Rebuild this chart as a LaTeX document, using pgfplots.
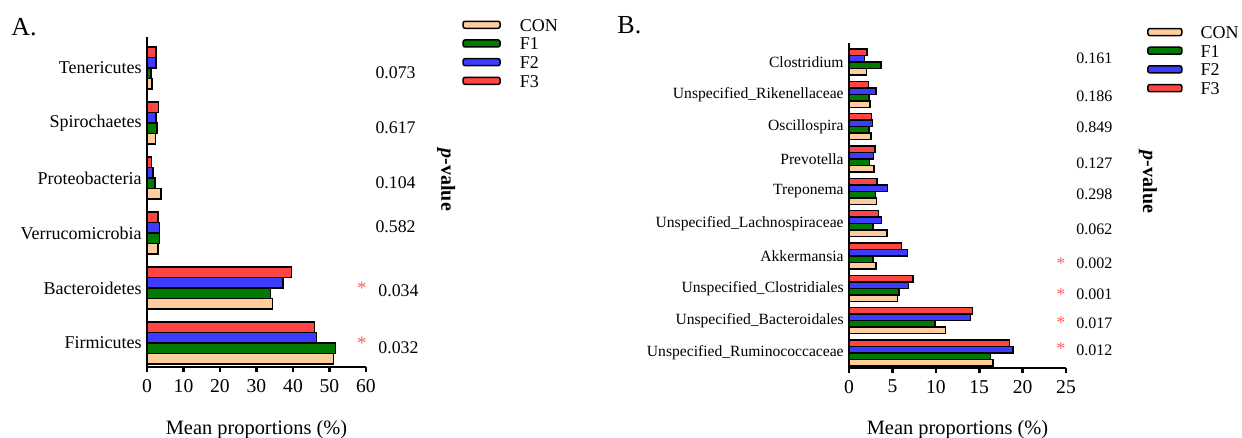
\documentclass[border=0pt]{standalone}
\usepackage{fontspec}
\setmainfont{Liberation Serif}
\usepackage{pgfplots}
\pgfplotsset{compat=1.18}
\usepackage{pgfplotstable}
\definecolor{conc}{RGB}{253,205,158}
\definecolor{f1c}{RGB}{0,122,0}
\definecolor{f2c}{RGB}{60,60,255}
\definecolor{f3c}{RGB}{255,68,68}
\definecolor{starc}{RGB}{255,95,95}

\pgfplotstableread{
idx con f1 f2 f3
0 51.1 51.6 46.5 45.9
1 34.4 33.9 37.3 39.6
2 3.0 3.4 3.4 3.0
3 3.9 2.2 1.6 1.3
4 2.3 2.7 2.5 3.2
5 1.4 1.1 2.5 2.4
}\dataA

\pgfplotstableread{
idx con f1 f2 f3
0 16.6 16.3 18.9 18.5
1 11.1 9.9 14.0 14.2
2 5.6 5.75 6.85 7.35
3 3.1 2.75 6.75 6.05
4 4.4 2.75 3.75 3.4
5 3.15 3.05 4.45 3.25
6 2.9 2.35 2.8 3.0
7 2.55 2.3 2.7 2.6
8 2.4 2.3 3.1 2.25
9 2.0 3.7 1.8 2.05
}\dataB

\pgfplotsset{
  mybar/.style={
    scale only axis,
    axis x line*=bottom, axis y line*=left,
    axis line style={line width=1.4pt, -},
    tick align=outside, major tick length=2.5pt,
    x tick style={line width=1.3pt, black},
    y tick style={draw=none},
    xmin=0,
    /pgf/number format/assume math mode=true,
    xticklabel style={font=\fontsize{9.8}{11}\selectfont},
    yticklabel style={inner sep=0pt},
    clip=false,
    legend cell align=left,
    xlabel={Mean proportions (\%)},
    xlabel style={anchor=center, font=\fontsize{10.2}{12}\selectfont},
  },
}

\begin{document}
\begin{tikzpicture}
\path[use as bounding box] (0,0) rectangle (621pt,219pt);

% ---------------- Panel A ----------------
\begin{axis}[mybar,
  at={(73.5pt,35.5pt)}, anchor=south west,
  width=109.5pt, height=165pt,
  xmax=60, xtick={0,10,...,60},
  ymin=-0.436, ymax=5.564,
  ytick={0,...,5},
  yticklabels={Firmicutes,Bacteroidetes,Verrucomicrobia,Proteobacteria,Spirochaetes,Tenericutes},
  yticklabel style={font=\fontsize{9}{11}\selectfont},
  xbar=0pt, bar width=5.25pt,
  legend image code/.code={\draw[#1, line width=0.75pt, rounded corners=1pt] (0pt,-1.75pt) rectangle (18.5pt,1.75pt);},
  xlabel style={at={(axis description cs:0.5,-0.19)}},
  legend style={at={(1.438,1.058)}, anchor=north west, draw=none, fill=none,
    inner sep=0pt, row sep=2.85pt, column sep=9.5pt,
    nodes={inner sep=0pt, text height=6.5pt, text depth=0pt, font=\fontsize{9}{11}\selectfont}},
]
\addplot[fill=conc, draw=black, line width=0.75pt] table[x=con, y=idx] {\dataA};
\addplot[fill=f1c, draw=black, line width=0.75pt] table[x=f1, y=idx] {\dataA};
\addplot[fill=f2c, draw=black, line width=0.75pt] table[x=f2, y=idx] {\dataA};
\addplot[fill=f3c, draw=black, line width=0.75pt] table[x=f3, y=idx] {\dataA};
\legend{CON,F1,F2,F3}
\begin{scope}[every node/.style={font=\fontsize{8.9}{11}\selectfont, anchor=west, inner sep=0pt}]
\node at (axis cs:62.5,4.92) {0.073};
\node at (axis cs:62.5,3.92) {0.617};
\node at (axis cs:62.5,2.92) {0.104};
\node at (axis cs:62.5,2.12) {0.582};
\node at (axis cs:63.3,0.96) {0.034};
\node at (axis cs:63.3,-0.08) {0.032};
\end{scope}
\node[text=starc, font=\fontsize{9.5}{10}\selectfont] at (axis cs:58.9,1.0) {*};
\node[text=starc, font=\fontsize{9.5}{10}\selectfont] at (axis cs:58.9,0.0) {*};
\node[rotate=-90, font=\fontsize{10}{12}\bfseries\selectfont] at (axis description cs:1.366,0.567) {\textit{p}-value};
\node[anchor=base west, inner sep=0pt, font=\fontsize{13}{15}\selectfont] at (axis description cs:-0.621,1.006) {A.};
\end{axis}

% ---------------- Panel B ----------------
\begin{axis}[mybar,
  at={(424.5pt,35pt)}, anchor=south west,
  width=108.5pt, height=162.5pt,
  xmax=25, xtick={0,5,...,25},
  ymin=-0.464, ymax=9.59,
  ytick={0,...,9},
  yticklabels={Unspecified\_Ruminococcaceae,Unspecified\_Bacteroidales,Unspecified\_Clostridiales,Akkermansia,Unspecified\_Lachnospiraceae,Treponema,Prevotella,Oscillospira,Unspecified\_Rikenellaceae,Clostridium},
  yticklabel style={font=\fontsize{7.8}{9}\selectfont},
  xbar=0pt, bar width=3.25pt,
  legend image code/.code={\draw[#1, line width=0.75pt, rounded corners=1pt] (0pt,-1.75pt) rectangle (17pt,1.75pt);},
  xlabel style={at={(axis description cs:0.5,-0.19)}},
  legend style={at={(1.372,1.055)}, anchor=north west, draw=none, fill=none,
    inner sep=0pt, row sep=2.85pt, column sep=9pt,
    nodes={inner sep=0pt, text height=6.5pt, text depth=0pt, font=\fontsize{9}{11}\selectfont}},
]
\addplot[fill=conc, draw=black, line width=0.75pt] table[x=con, y=idx] {\dataB};
\addplot[fill=f1c, draw=black, line width=0.75pt] table[x=f1, y=idx] {\dataB};
\addplot[fill=f2c, draw=black, line width=0.75pt] table[x=f2, y=idx] {\dataB};
\addplot[fill=f3c, draw=black, line width=0.75pt] table[x=f3, y=idx] {\dataB};
\legend{CON,F1,F2,F3}
\begin{scope}[every node/.style={font=\fontsize{8}{10}\selectfont, anchor=west, inner sep=0pt}]
\node at (axis cs:26.15,9.12) {0.161};
\node at (axis cs:26.15,7.95) {0.186};
\node at (axis cs:26.15,6.99) {0.849};
\node at (axis cs:26.15,5.88) {0.127};
\node at (axis cs:26.15,4.92) {0.298};
\node at (axis cs:26.15,3.84) {0.062};
\node at (axis cs:26.15,2.78) {0.002};
\node at (axis cs:26.15,1.82) {0.001};
\node at (axis cs:26.15,0.93) {0.017};
\node at (axis cs:26.15,0.09) {0.012};
\end{scope}
\node[text=starc, font=\fontsize{9}{10}\selectfont] at (axis cs:24.4,2.78) {*};
\node[text=starc, font=\fontsize{9}{10}\selectfont] at (axis cs:24.4,1.82) {*};
\node[text=starc, font=\fontsize{9}{10}\selectfont] at (axis cs:24.4,0.93) {*};
\node[text=starc, font=\fontsize{9}{10}\selectfont] at (axis cs:24.4,0.15) {*};
\node[rotate=-90, font=\fontsize{10}{12}\bfseries\selectfont] at (axis description cs:1.378,0.572) {\textit{p}-value};
\node[anchor=base west, inner sep=0pt, font=\fontsize{13}{15}\selectfont] at (axis description cs:-1.069,1.029) {B.};
\end{axis}
\end{tikzpicture}
\end{document}
